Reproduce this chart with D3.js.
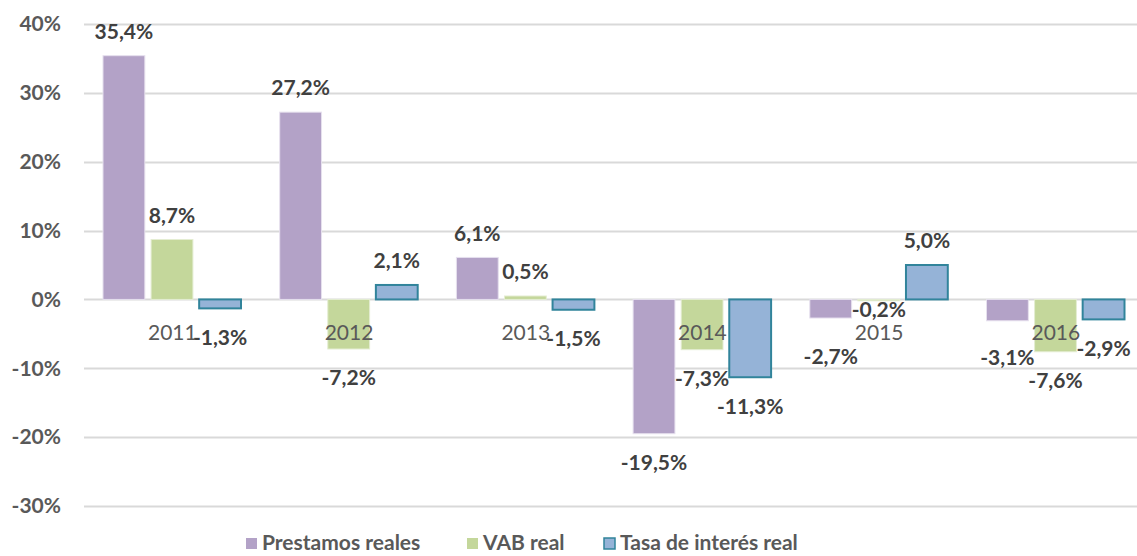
<!DOCTYPE html>
<html>
<head>
<meta charset="utf-8">
<script src="https://cdn.jsdelivr.net/npm/d3@7"></script>
<style>
  body { margin: 0; background: #fff; }
  svg { font-family: Lato, "Open Sans", sans-serif; }
</style>
</head>
<body>
<div id="chart"></div>
<script>
// data
let years = ["2011", "2012", "2013", "2014", "2015", "2016"];
let seriesNames = ["Prestamos reales", "VAB real", "Tasa de interés real"];
let prestamos = [35.4, 27.2, 6.1, -19.5, -2.7, -3.1];
let vab = [8.7, -7.2, 0.5, -7.3, -0.2, -7.6];
let tasa = [-1.3, 2.1, -1.5, -11.3, 5.0, -2.9];
let yTicks = [40, 30, 20, 10, 0, -10, -20, -30];

let fills = ["#b3a2c7", "#c4d79b", "#95b3d7"],
    strokes = ["#e6e0ee", "#e4edd2", "#31849b"];

let W = 1137, H = 556;
let margin = { top: 24, left: 84, right: 0 };

// label tweaks (Excel had a few labels moved by hand)
let nudge = { "4-0": 10, "4-1": -20, "5-0": 8 };

let rows = years.map(function (y, i) {
    return { year: y, vals: [prestamos[i], vab[i], tasa[i]] };
});

let svg = d3.select("#chart").append("svg")
    .attr("width", W)
    .attr("height", H);

let x0 = d3.scaleBand()
    .domain(years)
    .range([margin.left, margin.left + 6 * 176.7])
    .paddingInner(0)
    .paddingOuter(0);

let x1 = d3.scaleBand()
    .domain([0, 1, 2])
    .range([19, 157])
    .paddingInner(0.13);

let y = d3.scaleLinear()
    .domain([-30, 40])
    .range([506, 24]);

// gridlines
svg.append("g").selectAll("line")
    .data(yTicks)
    .enter().append("line")
    .attr("x1", margin.left)
    .attr("x2", W)
    .attr("y1", function (d) { return Math.round(y(d)) + 0.5; })
    .attr("y2", function (d) { return Math.round(y(d)) + 0.5; })
    .attr("stroke", "#d9d9d9")
    .attr("stroke-width", 2);

// y axis labels
let yAxis = d3.axisLeft(y)
    .tickValues(yTicks)
    .tickSize(0)
    .tickPadding(0)
    .tickFormat(function (d) { return d + "%"; });

let ya = svg.append("g")
    .attr("transform", "translate(61,0)")
    .call(yAxis);
ya.select(".domain").remove();
ya.selectAll("text")
    .attr("font-family", "Lato, 'Open Sans', sans-serif")
    .attr("font-size", 21)
    .attr("font-weight", "bold")
    .attr("fill", "#595959");

// bars
let groups = svg.append("g").selectAll("g")
    .data(rows)
    .enter().append("g")
    .attr("transform", function (d) { return "translate(" + x0(d.year) + ",0)"; });

groups.selectAll("rect")
    .data(function (d) { return d.vals; })
    .enter().append("rect")
    .attr("x", function (d, i) { return x1(i); })
    .attr("width", x1.bandwidth())
    .attr("y", function (d) { return y(Math.max(0, d)); })
    .attr("height", function (d) { return Math.abs(y(d) - y(0)); })
    .attr("fill", function (d, i) { return fills[i]; })
    .attr("stroke", function (d, i) { return strokes[i]; })
    .attr("stroke-width", function (d, i) { return i === 2 ? 2 : 1; });

// category labels sit just under the zero line
svg.append("g").selectAll("text")
    .data(years)
    .enter().append("text")
    .attr("x", function (d) { return x0(d) + x0.bandwidth() / 2; })
    .attr("y", y(0) + 33)
    .attr("dy", "0.35em")
    .attr("text-anchor", "middle")
    .attr("font-size", 21)
    .attr("fill", "#595959")
    .text(function (d) { return d; });

// data labels
groups.each(function (row, gi) {
    d3.select(this).selectAll("text.val")
        .data(row.vals)
        .enter().append("text")
        .attr("class", "val")
        .attr("x", function (d, i) { return x1(i) + x1.bandwidth() / 2; })
        .attr("y", function (d, i) {
            let off = d >= 0 ? -24 : 29;
            return y(d) + off + (nudge[gi + "-" + i] || 0);
        })
        .attr("dy", "0.35em")
        .attr("text-anchor", "middle")
        .attr("font-size", 21)
        .attr("font-weight", "bold")
        .attr("fill", "#404040")
        .text(function (d) { return d.toFixed(1).replace(".", ",") + "%"; });
});

// legend
let legendX = [246, 467, 604];
let legend = svg.append("g").selectAll("g")
    .data(seriesNames)
    .enter().append("g")
    .attr("transform", function (d, i) { return "translate(" + legendX[i] + ",538)"; });

legend.append("rect")
    .attr("width", 11)
    .attr("height", 11)
    .attr("fill", function (d, i) { return fills[i]; })
    .attr("stroke", function (d, i) { return i === 2 ? strokes[i] : "none"; })
    .attr("stroke-width", 1.5);

legend.append("text")
    .attr("x", 16)
    .attr("y", 5)
    .attr("dy", "0.35em")
    .attr("font-size", 21)
    .attr("font-weight", "bold")
    .attr("fill", "#595959")
    .text(function (d) { return d; });
</script>
</body>
</html>
